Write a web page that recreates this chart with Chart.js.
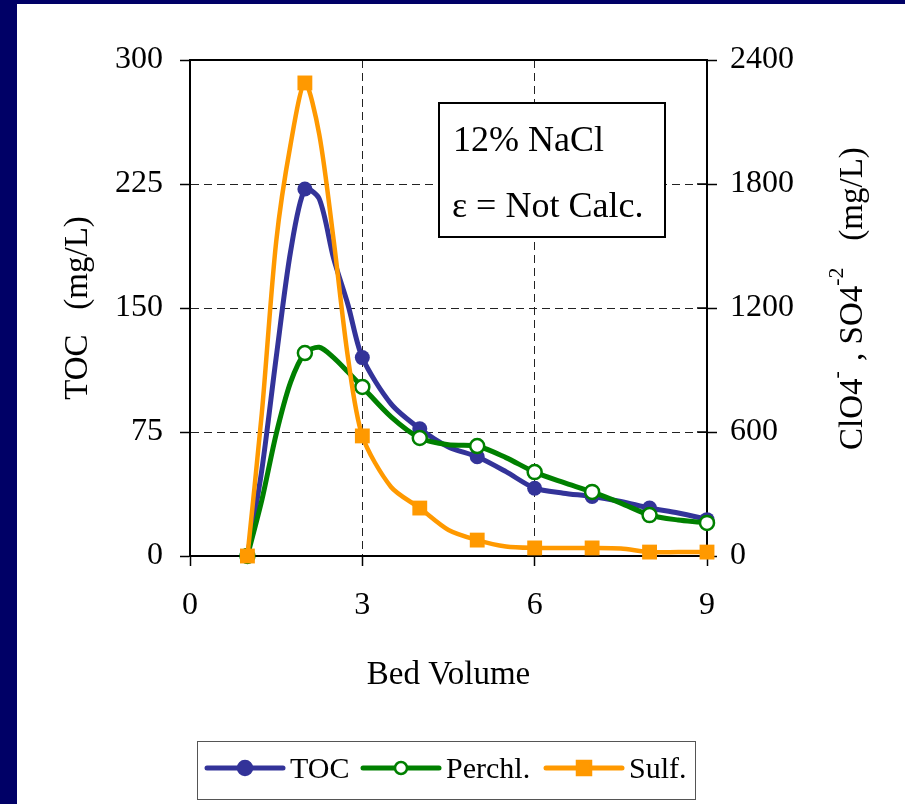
<!DOCTYPE html>
<html>
<head>
<meta charset="utf-8">
<script src="https://cdn.jsdelivr.net/npm/chart.js@4"></script>
<style>
  html, body { margin: 0; padding: 0; background: #fff; }
  #wrap { width: 905px; height: 804px; }
</style>
</head>
<body>
<div id="wrap"><canvas id="chart" width="905" height="804"></canvas></div>
<script>
// --- Data ---
const bedVolume = [1, 1.25, 1.5, 1.75, 2, 2.25, 2.5, 2.75, 3, 3.5, 4, 4.5, 5, 5.5, 6, 6.5, 7, 7.5, 8, 8.5, 9, 9.12];
const tocValues = [0, 52, 120, 184, 222, 216, 180, 152, 120, 92, 77, 66, 60, 51, 41, 38, 36, 33, 29, 26, 22, 20];
const perchlValues = [0, 270, 590, 840, 982, 1010, 960, 890, 818, 673, 571, 538, 532, 476, 406, 356, 310, 256, 198, 174, 160, 150];
const sulfValues = [0, 690, 1520, 1990, 2289, 2040, 1530, 960, 581, 334, 232, 126, 77, 46, 39, 39, 39, 36, 19, 19, 19, 19];
const xTicks = [0, 3, 6, 9];
const leftTicks = [0, 75, 150, 225, 300];
const rightTicks = [0, 600, 1200, 1800, 2400];
const seriesNames = ['TOC', 'Perchl.', 'Sulf.'];

const FONT = "'Liberation Serif', 'Times New Roman', serif";
const BLUE = '#333399', GREEN = '#008000', ORANGE = '#FF9900';

const toPoints = vals => bedVolume.map((x, i) => ({ x, y: vals[i] }));
const marked = r => ctx => (ctx.raw && Number.isInteger(ctx.raw.x) ? r : 0);

// --- Plugin for the page decoration ---
const decor = {
  id: 'decor',
  beforeDraw(chart) {
    const c = chart.ctx;
    c.save();
    c.fillStyle = '#fff';
    c.fillRect(0, 0, chart.width, chart.height);
    c.fillStyle = '#000066';
    c.fillRect(0, 0, 17, chart.height);
    c.fillRect(0, 0, chart.width, 4);
    c.restore();
  },
  beforeDatasetsDraw(chart) {
    const c = chart.ctx, a = chart.chartArea;
    c.save();
    c.setLineDash([]);
    c.strokeStyle = '#000';
    c.lineWidth = 2;
    c.strokeRect(a.left, a.top, a.right - a.left, a.bottom - a.top);
    // inner half of the right axis ticks
    c.lineWidth = 1.5;
    rightTicks.forEach(v => {
      const y = chart.scales.y1.getPixelForValue(v);
      c.beginPath(); c.moveTo(a.right - 10, y); c.lineTo(a.right, y); c.stroke();
    });
    c.restore();
  },
  afterDraw(chart) {
    const c = chart.ctx;
    c.save();
    c.fillStyle = '#000';
    c.textBaseline = 'alphabetic';

    // right axis title, rotated, with superscripts
    c.translate(862, 450);
    c.rotate(-Math.PI / 2);
    const parts = [['ClO4', 0], ['-', 1], [' , ', 0], ['SO4', 0], ['-2', 1], ['   (mg/L)', 0]];
    let px = 0;
    parts.forEach(([t, sup]) => {
      c.font = (sup ? '22px ' : '33px ') + FONT;
      c.fillText(t, px, sup ? -19 : 0);
      px += c.measureText(t).width + (sup ? 2 : 0);
    });
    c.restore();

    // annotation box
    c.save();
    c.fillStyle = '#fff';
    c.fillRect(439, 103, 226, 134);
    c.strokeStyle = '#000';
    c.lineWidth = 2;
    c.strokeRect(439, 103, 226, 134);
    c.fillStyle = '#000';
    c.font = '36px ' + FONT;
    c.fillText('12% NaCl', 453, 151);
    c.fillText('\u03b5 = Not Calc.', 452, 217);

    // legend box
    c.fillStyle = '#fff';
    c.fillRect(197, 741, 499, 59);
    c.strokeStyle = '#555';
    c.lineWidth = 1;
    c.strokeRect(197.5, 741.5, 498, 58);
    const items = [
      { x: 207, color: BLUE, style: 'circle', fill: BLUE, r: 7, tx: 290 },
      { x: 363, color: GREEN, style: 'circle', fill: '#fff', r: 6, tx: 446 },
      { x: 546, color: ORANGE, style: 'rect', fill: ORANGE, r: 7, tx: 629 }
    ];
    items.forEach((it, i) => {
      const y = 768;
      c.strokeStyle = it.color;
      c.lineWidth = 5;
      c.lineCap = 'round';
      c.beginPath(); c.moveTo(it.x, y); c.lineTo(it.x + 76, y); c.stroke();
      c.fillStyle = it.fill;
      c.lineWidth = 2.5;
      c.beginPath();
      if (it.style === 'circle') c.arc(it.x + 38, y, it.r, 0, Math.PI * 2);
      else c.rect(it.x + 38 - it.r, y - it.r, it.r * 2, it.r * 2);
      c.fill(); c.stroke();
      c.fillStyle = '#000';
      c.font = '30px ' + FONT;
      c.fillText(seriesNames[i], it.tx, 778);
    });
    c.restore();
  }
};

const gridEdgeless = (edgeA, edgeB) => ctx =>
  (ctx.tick && (ctx.tick.value === edgeA || ctx.tick.value === edgeB)) ? 'rgba(0,0,0,0)' : '#222';
const plainLabel = v => String(v);

new Chart(document.getElementById('chart'), {
  type: 'line',
  data: {
    datasets: [
      {
        label: seriesNames[0], data: toPoints(tocValues), yAxisID: 'y', order: 3,
        borderColor: BLUE, backgroundColor: BLUE, borderWidth: 5,
        pointStyle: 'circle', pointRadius: marked(7.5), pointBackgroundColor: BLUE,
        pointBorderColor: BLUE, pointBorderWidth: 0, tension: 0.28, clip: false
      },
      {
        label: seriesNames[1], data: toPoints(perchlValues), yAxisID: 'y1', order: 2,
        borderColor: GREEN, backgroundColor: '#fff', borderWidth: 5,
        pointStyle: 'circle', pointRadius: marked(7), pointBackgroundColor: '#fff',
        pointBorderColor: GREEN, pointBorderWidth: 2.5, tension: 0.28, clip: false
      },
      {
        label: seriesNames[2], data: toPoints(sulfValues), yAxisID: 'y1', order: 1,
        borderColor: ORANGE, backgroundColor: ORANGE, borderWidth: 4.5,
        pointStyle: 'rect', pointRadius: marked(10.5), pointBackgroundColor: ORANGE,
        pointBorderColor: ORANGE, pointBorderWidth: 0, tension: 0.28, clip: false
      }
    ]
  },
  options: {
    responsive: false,
    animation: false,
    devicePixelRatio: 1,
    layout: { padding: { top: 60, left: 0, right: 0, bottom: 0 } },
    plugins: { legend: { display: false }, tooltip: { enabled: false } },
    elements: { point: { hoverRadius: 0 } },
    scales: {
      x: {
        type: 'linear', min: 0, max: 9,
        afterBuildTicks: s => { s.ticks = xTicks.map(v => ({ value: v })); },
        afterFit: s => { s.height = 248; },
        ticks: { color: '#000', font: { family: FONT, size: 32 }, padding: 20, callback: plainLabel },
        grid: {
          color: gridEdgeless(0, 9), lineWidth: 1,
          tickColor: '#000', tickBorderDash: [], tickLength: 10, tickWidth: 1.5
        },
        border: { color: '#000', width: 2, dash: [8, 5] },
        title: {
          display: true, text: 'Bed Volume', color: '#000',
          font: { family: FONT, size: 33 }, padding: { top: 0, bottom: 109 }
        }
      },
      y: {
        position: 'left', min: 0, max: 300,
        afterBuildTicks: s => { s.ticks = leftTicks.map(v => ({ value: v })); },
        afterFit: s => { s.width = 190; },
        ticks: { color: '#000', font: { family: FONT, size: 32 }, padding: 17, callback: plainLabel },
        grid: {
          color: gridEdgeless(0, 300), lineWidth: 1,
          tickColor: '#000', tickBorderDash: [], tickLength: 10, tickWidth: 1.5
        },
        border: { color: '#000', width: 2, dash: [8, 5] },
        title: {
          display: true, text: 'TOC   (mg/L)', color: '#000',
          font: { family: FONT, size: 33 }, padding: { top: 59, bottom: 0 }
        }
      },
      y1: {
        position: 'right', min: 0, max: 2400,
        afterBuildTicks: s => { s.ticks = rightTicks.map(v => ({ value: v })); },
        afterFit: s => { s.width = 198; },
        ticks: { color: '#000', font: { family: FONT, size: 32 }, padding: 13, callback: plainLabel },
        grid: {
          drawOnChartArea: false, tickColor: '#000', tickLength: 10, tickWidth: 1.5
        },
        border: { color: '#000', width: 2 }
      }
    }
  },
  plugins: [decor]
});
</script>
</body>
</html>
